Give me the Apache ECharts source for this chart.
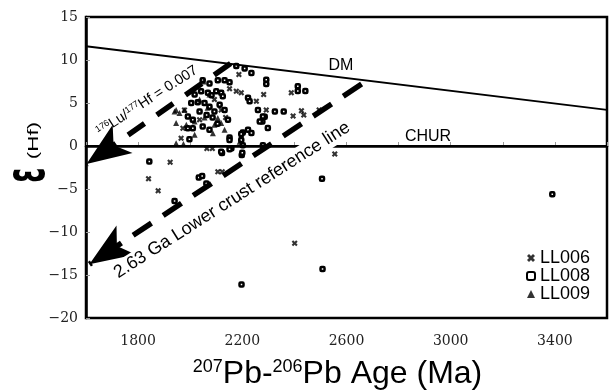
<!DOCTYPE html>
<html>
<head>
<meta charset="utf-8">
<script src="https://cdn.jsdelivr.net/npm/echarts@6/dist/echarts.min.js"></script>
<style>
html,body{margin:0;padding:0;background:#fff;}
#chart{width:609px;height:390px;}
</style>
</head>
<body>
<div id="chart"></div>
<script>
// age (Ma), epsilon Hf
const ll006 = [
    [2187,8.3],[2388,6.18],[2282,6.0],[2292,4.2],[2427,4.1],[2436,3.6],[2495,4.2],
    [2151,6.65],[2177,6.37],[2196,6.18],[2254,5.2],[2119,4.2],[1972,2.07],[1965,0.9],
    [2064,-0.3],[2085,-0.3],[1923,-1.9],[1840,-3.8],[1877,-5.2],[2106,-3.0],[2123,-3.0],
    [2555,-0.94],[2401,-11.3],[2093,5.4],[2036,3.05],[2136,3.3],[1978,4.2],[2395,3.5]
];
const ll008 = [
    [2177,9.3],[2209,9.0],[2235,8.5],[2292,7.7],[2292,7.2],[2413,6.95],[2442,6.4],[2413,6.4],
    [2325,4.0],[2359,4.0],[2286,3.4],[2277,2.85],[2298,2.1],[2222,1.9],[2202,1.56],[2235,1.5],
    [2151,1.0],[2196,0.7],[2202,0.1],[2122,-0.8],[2158,-0.27],[2198,-1.05],[1843,-1.8],
    [2033,-3.67],[2046,-3.5],[2062,-4.37],[1940,-6.4],[2506,-3.8],[2197,-16.1],[2508,-14.3],[3390,-5.6],
    [2048,7.65],[2074,7.27],[2106,7.65],[2132,7.65],[2151,7.4],[2042,6.37],[2068,6.18],[2100,6.37],
    [2119,6.18],[2125,5.78],[2222,5.6],[2228,5.2],[2004,5.0],[2029,5.08],[2055,5.0],[1991,3.43],
    [2010,3.05],[2145,3.05],[2260,4.2],[2267,2.85],[2279,3.43],[1991,2.07],[2010,2.07],[2048,2.26],
    [2074,1.88],[1997,0.79],[2151,0.7],[2196,1.4],[2119,-0.67],[2151,-0.39],[2200,-0.79],[2279,0.1],
    [2074,4.57],[2093,4.0],[2113,4.8],[2086,3.3],[2105,2.6],[2063,3.6],[2132,4.2],[2036,4.0],
    [2082,5.9],[2017,6.0]
];
const ll009 = [
    [2074,5.98],[1940,4.0],[1959,3.83],[1978,4.2],[2106,3.25],[2119,2.66],[1946,2.66],[1985,2.46],
    [2017,2.85],[2087,1.49],[1946,0.32],[1974,0.23],[2190,0.5],[2051,7.5],[1946,4.2],[2036,5.4],
    [2067,4.45],[2093,2.46],[2055,3.3],[2017,1.3],[2132,1.88]
];
const dmLine = [[1600,11.6],[3600,4.2]];
const churLine = [[1600,0],[3600,0]];
// start at the upper end, arrow tip at the lower end
const luHfArrow = [[2155,9.6],[1602,-2.1]];
const crustArrow = [[2658,7.2],[1613,-13.75]];
const xLabels = [1800,2200,2600,3000,3400];

const crossPath = 'path://M0,2.5L2.5,0L5,2.5L7.5,0L10,2.5L7.5,5L10,7.5L7.5,10L5,7.5L2.5,10L0,7.5L2.5,5Z';
const deg = Math.PI / 180;
const arrowSize = [26, 44];

let chart = echarts.init(document.getElementById('chart'), null, {renderer: 'canvas'});

const option = {
    backgroundColor: '#fff',
    animation: false,
    grid: {
        left: 86, right: 2, top: 17, bottom: 72,
        outerBoundsMode: 'none',
        show: true, borderColor: '#000', borderWidth: 2.5
    },
    legend: {
        orient: 'vertical',
        left: 521, top: 244,
        itemWidth: 8, itemHeight: 8, itemGap: 0,
        data: ['LL006', 'LL008', 'LL009'],
        textStyle: {fontFamily: 'Liberation Sans', fontSize: 18, color: '#000', lineHeight: 16.5}
    },
    xAxis: {
        type: 'value', min: 1600, max: 3600, interval: 200,
        axisLine: {lineStyle: {color: '#000', width: 2.5}},
        axisTick: {inside: true, length: 4, lineStyle: {color: '#999'}},
        splitLine: {show: false},
        axisLabel: {
            margin: 16, fontFamily: 'DejaVu Serif', fontSize: 14, color: '#222',
            formatter: v => xLabels.includes(v) ? String(v) : ''
        },
        name: '{s|207}Pb-{s|206}Pb Age (Ma)',
        nameLocation: 'middle', nameGap: 40,
        nameTextStyle: {
            fontFamily: 'Liberation Sans', fontSize: 32, color: '#000', padding: [0, 18, 0, 0],
            rich: {s: {fontFamily: 'Liberation Sans', fontSize: 18, color: '#000', verticalAlign: 'top'}}
        }
    },
    yAxis: {
        type: 'value', min: -20, max: 15, interval: 5,
        axisLine: {lineStyle: {color: '#000', width: 2.5}},
        axisTick: {inside: true, length: 4, lineStyle: {color: '#999'}},
        splitLine: {show: false},
        axisLabel: {
            margin: 8, fontFamily: 'DejaVu Serif', fontSize: 14, color: '#222', padding: [6, 0, 0, 0],
            formatter: v => String(v).replace('-', '\u2212')
        }
    },
    series: [
        {
            name: 'DM', type: 'line', data: dmLine, symbol: 'none', silent: true,
            lineStyle: {color: '#000', width: 2}
        },
        {
            name: 'CHUR', type: 'line', data: churLine, symbol: 'none', silent: true,
            lineStyle: {color: '#000', width: 2},
            markLine: {
                silent: true,
                label: {show: false},
                lineStyle: {color: '#000', width: 5.5, type: [20, 15]},
                data: [
                    [{coord: luHfArrow[0], symbol: 'none'}, {coord: luHfArrow[1], symbol: 'arrow', symbolSize: arrowSize}],
                    [{coord: crustArrow[0], symbol: 'none', lineStyle: {type: [22, 14]}}, {coord: crustArrow[1], symbol: 'arrow', symbolSize: arrowSize}]
                ]
            }
        },
        {
            name: 'LL006', type: 'scatter', data: ll006, symbol: crossPath, symbolSize: 6,
            itemStyle: {color: '#000'}
        },
        {
            name: 'LL008', type: 'scatter', data: ll008, symbol: 'roundRect', symbolSize: 4,
            itemStyle: {color: '#fff', borderColor: '#000', borderWidth: 2.5, opacity: 1}
        },
        {
            name: 'LL009', type: 'scatter', data: ll009, symbol: 'triangle', symbolSize: 6,
            itemStyle: {color: '#000'}
        }
    ],
    graphic: [
        {
            type: 'text', x: 30, y: 175, rotation: 90 * deg, scaleX: 0.6, scaleY: 1.2, z: 100,
            style: {text: '\u03b5', font: 'bold 46px "DejaVu Sans"', fill: '#000', align: 'center', verticalAlign: 'middle'}
        },
        {
            type: 'text', x: 34, y: 140.5, rotation: 90 * deg, scaleX: 1.6, z: 100,
            style: {text: '(Hf)', font: '14px "Liberation Sans"', fill: '#000', align: 'center', verticalAlign: 'middle'}
        },
        {
            type: 'text', x: 341, y: 66, z: 100,
            style: {text: 'DM', font: '16px "Liberation Sans"', fill: '#000', align: 'center', verticalAlign: 'middle'}
        },
        {
            type: 'text', x: 428, y: 137, z: 100,
            style: {text: 'CHUR', font: '16px "Liberation Sans"', fill: '#000', align: 'center', verticalAlign: 'middle'}
        },
        {
            type: 'text', x: 147, y: 101, rotation: 33 * deg, z: 100,
            style: {
                text: '{s|176}Lu/{s|177}Hf = 0.007', font: '14.5px "Liberation Sans"', fill: '#000',
                align: 'center', verticalAlign: 'middle',
                rich: {s: {font: '9px "Liberation Sans"', fill: '#000', verticalAlign: 'top'}}
            }
        },
        {
            type: 'text', x: 232, y: 200, rotation: 32.5 * deg, z: 100,
            style: {
                text: '2.63 Ga Lower crust reference line', font: '18px "Liberation Sans"', fill: '#000',
                align: 'center', verticalAlign: 'middle', backgroundColor: '#fff', padding: [1, 2]
            }
        }
    ]
};

chart.setOption(option);
</script>
</body>
</html>
